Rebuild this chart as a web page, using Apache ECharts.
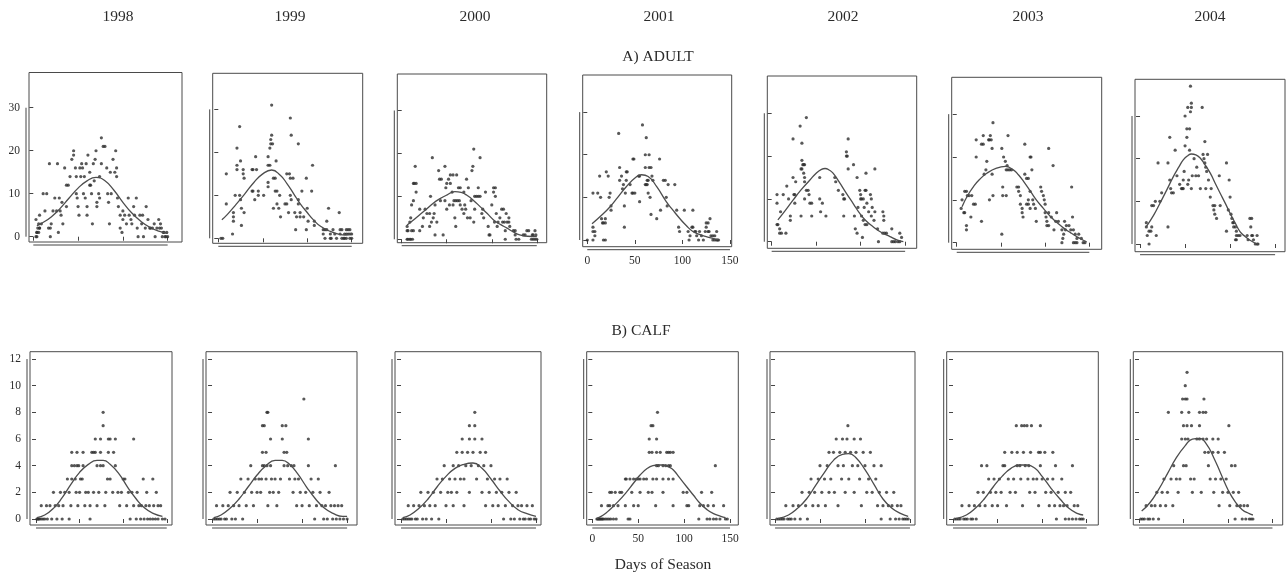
<!DOCTYPE html>
<html><head><meta charset="utf-8">
<script src="https://cdn.jsdelivr.net/npm/echarts@6/dist/echarts.min.js"></script>
<style>html,body{margin:0;padding:0;background:#fff}#c{width:1287px;height:575px}</style>
</head><body><div id="c"></div>
<script>
// ---------------- DATA ----------------
const years = ['1998','1999','2000','2001','2002','2003','2004'];
const rowTitles = ['A) ADULT','B) CALF'];
const xTitle = 'Days of Season';
const dayTicks = [0,50,100,150];
const adultTicks = [0,10,20,30];
const calfTicks = [0,2,4,6,8,10,12];

const adult1998 = [[3,4],[4,1],[4,0],[6,1],[7,2],[7,2],[7,5],[9,3],[11,10],[15,10],[13,6],[17,2],[19,2],[18,17],[20,3],[19,0],[22,6],[24,9],[26,6],[27,17],[28,1],[29,9],[30,6],[31,5],[32,8],[33,3],[35,16],[37,7],[39,12],[37,12],[41,14],[43,18],[45,20],[45,19],[47,16],[48,14],[48,10],[49,9],[50,7],[51,5],[52,16],[53,14],[54,17],[55,16],[56,10],[57,14],[58,9],[59,17],[60,7],[60,5],[61,19],[63,12],[63,15],[64,12],[65,10],[66,3],[67,17],[68,13],[69,18],[70,20],[71,8],[71,7],[73,10],[74,9],[74,14],[76,17],[76,23],[78,21],[80,21],[82,16],[83,10],[84,8],[85,3],[86,15],[87,10],[89,18],[91,15],[92,20],[93,16],[93,14],[94,9],[95,7],[97,5],[97,2],[99,1],[100,4],[100,6],[102,5],[104,3],[106,9],[107,5],[109,4],[110,3],[112,7],[113,5],[115,9],[116,2],[117,0],[119,5],[121,3],[122,5],[123,0],[125,2],[126,7],[128,4],[130,2],[131,2],[133,2],[135,3],[136,0],[138,2],[140,4],[141,2],[142,3],[143,2],[145,1],[147,0],[148,0],[149,1],[150,0],[144,0],[146,1],[3,0],[5,2],[6,3],[4,1]];
const adultCurve1998 = [[4,2.6],[10,3.2],[20,4.6],[30,6.6],[40,9.0],[50,11.3],[60,13.0],[70,13.8],[80,13.0],[90,10.8],[100,8.0],[110,5.5],[120,3.6],[130,2.2],[140,1.3],[150,0.8]];

const adult1999 = [[3,0],[5,0],[9,15],[9,8],[16,1],[17,4],[17,5],[17,6],[19,10],[21,21],[21,17],[21,16],[24,10],[24,26],[25,18],[25,9],[26,7],[26,3],[28,16],[28,15],[29,14],[29,6],[38,16],[39,16],[38,11],[39,11],[41,9],[42,19],[43,16],[45,11],[45,10],[51,10],[56,17],[58,17],[58,21],[59,22],[59,23],[60,24],[61,22],[60,31],[56,19],[56,13],[56,12],[62,14],[64,14],[62,7],[64,11],[65,18],[66,11],[66,8],[68,7],[69,10],[70,5],[75,8],[77,8],[77,15],[80,15],[79,6],[81,14],[81,10],[82,24],[81,28],[82,9],[84,14],[86,6],[87,2],[88,5],[92,5],[90,8],[90,9],[90,22],[92,6],[94,11],[96,5],[99,2],[99,14],[100,7],[101,4],[105,11],[106,17],[108,4],[108,3],[118,2],[120,2],[122,2],[118,1],[120,0],[122,4],[124,7],[126,1],[126,0],[127,0],[129,2],[131,1],[133,0],[136,6],[137,2],[139,2],[137,1],[139,0],[141,0],[142,1],[144,1],[146,1],[148,1],[150,1],[142,0],[144,0],[148,0],[150,0],[144,2],[146,2],[148,2]];
const adultCurve1999 = [[4,4.3],[10,5.5],[20,7.9],[30,10.4],[40,13.0],[50,15.0],[60,15.9],[70,14.6],[77,12.8],[85,10.3],[92,8.1],[100,6.0],[107,4.3],[115,2.8],[126,1.6],[135,1.0],[144,0.8],[150,1.2]];

const adult2000 = [[6,0],[7,0],[9,0],[10,0],[12,0],[6,2],[7,2],[11,2],[13,2],[6,3],[9,4],[10,5],[11,8],[13,13],[14,13],[16,13],[15,17],[16,11],[13,9],[20,2],[20,7],[23,3],[24,5],[26,7],[28,6],[31,3],[31,6],[32,10],[33,4],[34,19],[35,5],[36,6],[37,8],[37,1],[39,4],[41,16],[42,14],[43,9],[44,14],[46,1],[48,17],[48,9],[49,12],[50,13],[50,7],[52,14],[53,8],[54,13],[54,15],[56,11],[57,15],[57,8],[58,9],[60,9],[62,9],[64,9],[59,5],[60,3],[61,15],[63,12],[65,12],[65,8],[67,7],[69,6],[69,11],[70,8],[71,7],[72,14],[73,5],[74,12],[76,5],[77,9],[78,16],[79,17],[80,21],[80,4],[81,7],[81,10],[83,10],[85,10],[87,10],[85,12],[87,19],[89,6],[91,5],[90,7],[93,11],[96,3],[97,1],[98,1],[100,8],[102,12],[104,12],[102,11],[104,10],[103,4],[105,6],[106,3],[107,4],[109,5],[111,7],[113,7],[112,4],[114,4],[115,0],[115,2],[116,6],[117,4],[119,4],[119,5],[120,3],[124,2],[126,2],[126,1],[127,0],[130,0],[135,1],[137,1],[139,2],[141,2],[144,0],[146,0],[148,0],[150,0],[145,1],[146,1],[149,1],[148,2]];
const adultCurve2000 = [[6,3.3],[12,4.3],[20,5.7],[28,7.1],[35,8.4],[42,9.4],[50,10.3],[59,11.1],[66,10.9],[72,10.3],[80,9.0],[87,7.6],[95,6.0],[102,4.5],[110,3.4],[117,2.6],[124,1.7],[131,1.0],[140,0.7],[150,0.6]];

const adult2001 = [[0,0],[6,3],[6,2],[8,1],[8,2],[6,0],[6,11],[11,11],[13,15],[14,10],[15,5],[16,4],[17,4],[19,5],[19,4],[17,0],[19,0],[20,16],[22,15],[23,10],[24,11],[25,8],[25,7],[33,25],[34,17],[34,14],[36,15],[37,12],[38,13],[39,8],[39,3],[40,11],[41,16],[41,14],[42,16],[45,13],[47,11],[48,11],[50,11],[48,19],[49,19],[54,15],[55,15],[55,9],[58,27],[61,20],[62,24],[61,17],[61,13],[62,13],[63,13],[63,14],[64,14],[65,20],[65,17],[67,17],[64,11],[66,10],[67,6],[68,15],[69,14],[73,5],[76,19],[77,7],[80,14],[82,14],[83,10],[84,8],[85,13],[92,13],[94,7],[96,3],[97,2],[102,7],[106,2],[107,0],[108,1],[110,3],[111,3],[111,7],[113,2],[114,2],[115,1],[117,0],[118,2],[120,1],[122,0],[124,2],[125,4],[127,4],[125,3],[127,2],[128,2],[129,5],[130,1],[132,1],[132,0],[134,0],[136,0],[134,1],[136,2],[137,0],[138,0]];
const adultCurve2001 = [[5,3.8],[15,5.8],[24,7.8],[32,10.0],[41,12.5],[52,14.9],[57,15.3],[64,14.9],[73,12.5],[83,9.0],[90,7.0],[97,5.1],[104,3.4],[111,2.0],[118,1.3],[125,0.8],[132,0.4],[138,0.1]];

const adult2002 = [[6,11],[6,9],[6,4],[7,4],[9,3],[9,2],[11,2],[10,7],[13,11],[16,2],[17,13],[19,10],[21,6],[21,5],[24,24],[24,15],[25,11],[26,11],[26,9],[27,14],[32,27],[33,17],[34,17],[34,23],[34,19],[35,18],[36,18],[37,18],[36,16],[37,15],[37,14],[37,10],[39,29],[39,12],[41,12],[42,11],[43,9],[45,9],[33,6],[45,6],[54,15],[54,10],[55,7],[57,9],[61,6],[71,15],[72,14],[75,12],[80,11],[81,10],[81,6],[82,10],[84,20],[84,21],[85,20],[86,24],[86,17],[92,18],[93,6],[94,3],[96,15],[96,2],[97,8],[99,12],[100,11],[100,10],[101,10],[101,6],[102,1],[103,10],[104,8],[105,12],[106,12],[103,5],[105,4],[107,4],[106,16],[107,9],[109,7],[111,11],[112,10],[112,6],[113,8],[115,5],[116,17],[116,7],[119,3],[120,0],[125,7],[126,6],[126,5],[125,2],[127,2],[129,2],[135,3],[135,0],[137,0],[139,0],[142,0],[144,0],[144,2],[146,1]];
const adultCurve2002 = [[7,5.1],[15,7.2],[24,9.7],[33,12.1],[43,14.4],[50,16.0],[56,16.9],[60,17.1],[65,16.7],[69,16.0],[76,13.9],[84,11.3],[92,8.8],[99,6.6],[106,4.9],[114,3.5],[123,2.2],[133,1.2],[140,0.5],[148,0.0]];

const adult2003 = [[6,10],[5,8],[8,7],[9,7],[9,12],[11,12],[11,3],[11,4],[12,11],[14,11],[16,6],[17,11],[19,9],[21,9],[22,24],[22,20],[28,5],[30,25],[28,23],[30,23],[31,16],[33,17],[34,19],[36,24],[37,24],[39,24],[37,10],[38,25],[40,22],[40,16],[41,28],[41,11],[51,22],[52,11],[56,11],[52,13],[51,2],[53,20],[55,19],[56,17],[58,17],[60,17],[62,17],[57,18],[58,25],[68,13],[70,13],[70,12],[72,11],[72,9],[74,8],[74,7],[75,6],[77,23],[77,16],[79,15],[81,15],[83,20],[84,20],[83,12],[85,17],[86,10],[87,9],[89,8],[90,5],[81,9],[83,8],[81,10],[79,9],[95,13],[96,12],[98,11],[99,10],[100,9],[100,7],[101,6],[102,5],[102,4],[104,4],[104,22],[104,7],[107,6],[109,18],[110,3],[112,5],[113,7],[115,5],[119,3],[119,0],[120,1],[121,2],[122,5],[124,4],[123,3],[127,4],[129,3],[130,13],[131,6],[132,3],[134,2],[132,0],[134,0],[136,0],[136,1],[138,2],[141,1],[143,0],[145,0]];
const adultCurve2003 = [[6,8.4],[12,10.9],[19,13.1],[26,14.8],[34,16.2],[45,17.4],[55,17.8],[64,17.0],[70,15.8],[77,13.9],[84,11.8],[90,10.0],[98,8.0],[106,6.1],[114,4.6],[121,3.4],[129,2.3],[136,1.4],[142,0.7],[147,0.2]];

const adult2004 = [[7,5],[7,4],[8,2],[10,0],[10,3],[12,3],[13,4],[13,9],[15,9],[17,10],[18,2],[20,19],[22,10],[24,12],[31,4],[31,19],[33,15],[33,25],[34,13],[35,12],[37,12],[39,22],[41,16],[44,14],[46,13],[47,13],[48,13],[48,15],[49,17],[50,23],[50,30],[52,27],[52,25],[53,32],[55,22],[55,27],[56,31],[56,37],[57,33],[57,32],[54,15],[58,16],[62,16],[65,16],[53,14],[57,13],[67,13],[60,20],[63,18],[69,32],[70,21],[71,20],[72,19],[73,18],[74,17],[72,24],[75,21],[76,15],[73,13],[78,11],[79,13],[81,9],[82,8],[83,9],[83,7],[85,6],[88,16],[89,9],[96,19],[98,8],[99,15],[100,11],[101,7],[102,6],[103,5],[104,5],[104,4],[106,4],[107,3],[107,2],[96,3],[106,1],[107,1],[109,2],[111,2],[119,2],[120,1],[122,6],[124,6],[123,4],[124,2],[125,2],[126,1],[128,0],[130,0],[131,0],[130,2]];
const adultCurve2004 = [[7,4.1],[15,6.7],[22,9.5],[30,12.8],[37,15.8],[43,18.0],[48,19.7],[53,20.7],[57,21.1],[62,20.9],[67,20.1],[72,18.6],[78,16.6],[84,14.0],[89,11.9],[95,9.4],[100,7.2],[106,4.8],[111,2.9],[117,1.7],[122,0.9],[127,0.3],[131,0.0]];

const calf1998 = [[77,8],[77,7],[68,6],[74,6],[83,6],[85,6],[91,6],[112,6],[41,5],[47,5],[54,5],[64,5],[66,5],[68,5],[74,5],[83,5],[89,5],[41,4],[44,4],[47,4],[49,4],[54,4],[70,4],[74,4],[77,4],[91,4],[36,3],[41,3],[45,3],[51,3],[53,3],[82,3],[85,3],[100,3],[102,3],[123,3],[134,3],[20,2],[28,2],[33,2],[38,2],[46,2],[50,2],[57,2],[60,2],[66,2],[72,2],[80,2],[88,2],[94,2],[98,2],[106,2],[110,2],[116,2],[127,2],[138,2],[6,1],[12,1],[16,1],[22,1],[26,1],[31,1],[40,1],[48,1],[56,1],[62,1],[70,1],[79,1],[96,1],[104,1],[112,1],[118,1],[121,1],[126,1],[130,1],[135,1],[140,1],[143,1],[1,0],[2,0],[3,0],[4,0],[6,0],[8,0],[10,0],[13,0],[18,0],[24,0],[30,0],[38,0],[62,0],[108,0],[115,0],[120,0],[124,0],[128,0],[131,0],[134,0],[137,0],[140,0],[145,0],[148,0]];
const calfCurve1998 = [[1,0.1],[10,0.3],[20,0.8],[30,1.6],[40,2.6],[50,3.5],[60,4.1],[70,4.4],[77,4.4],[85,4.1],[95,3.4],[105,2.4],[115,1.5],[125,0.8],[135,0.4],[145,0.2]];

const calf1999 = [[102,9],[61,8],[62,8],[56,7],[58,7],[78,7],[82,7],[65,6],[78,6],[107,6],[56,5],[60,5],[80,5],[83,5],[43,4],[56,4],[58,4],[61,4],[65,4],[80,4],[84,4],[88,4],[91,4],[107,4],[137,4],[32,3],[40,3],[48,3],[52,3],[55,3],[60,3],[66,3],[70,3],[76,3],[86,3],[92,3],[96,3],[110,3],[118,3],[20,2],[28,2],[36,2],[44,2],[50,2],[54,2],[64,2],[68,2],[74,2],[90,2],[98,2],[104,2],[112,2],[120,2],[130,2],[5,1],[12,1],[18,1],[24,1],[30,1],[38,1],[46,1],[62,1],[72,1],[94,1],[100,1],[108,1],[116,1],[122,1],[126,1],[132,1],[136,1],[140,1],[144,1],[2,0],[4,0],[6,0],[8,0],[10,0],[14,0],[16,0],[22,0],[26,0],[34,0],[114,0],[124,0],[128,0],[134,0],[138,0],[142,0],[146,0],[150,0]];
const calfCurve1999 = [[2,0.1],[10,0.3],[20,0.8],[30,1.5],[40,2.4],[50,3.3],[60,4.0],[70,4.4],[78,4.4],[86,4.1],[95,3.4],[105,2.4],[115,1.5],[125,0.8],[135,0.4],[145,0.2],[150,0.2]];

const calf2000 = [[82,8],[76,7],[82,7],[68,6],[76,6],[82,6],[90,6],[62,5],[68,5],[74,5],[80,5],[88,5],[94,5],[48,4],[58,4],[64,4],[72,4],[78,4],[86,4],[92,4],[100,4],[40,3],[46,3],[54,3],[60,3],[66,3],[70,3],[84,3],[96,3],[104,3],[110,3],[118,3],[22,2],[30,2],[36,2],[44,2],[52,2],[56,2],[62,2],[76,2],[90,2],[98,2],[106,2],[112,2],[120,2],[128,2],[8,1],[14,1],[20,1],[26,1],[32,1],[38,1],[50,1],[58,1],[70,1],[94,1],[102,1],[108,1],[116,1],[124,1],[130,1],[134,1],[140,1],[146,1],[2,0],[4,0],[6,0],[8,0],[10,0],[12,0],[16,0],[18,0],[24,0],[28,0],[34,0],[42,0],[114,0],[122,0],[126,0],[132,0],[136,0],[138,0],[142,0],[144,0],[148,0],[150,0]];
const calfCurve2000 = [[2,0.1],[10,0.3],[20,0.8],[30,1.5],[40,2.4],[50,3.2],[60,3.8],[70,4.1],[80,4.2],[90,3.8],[100,3.0],[110,2.1],[120,1.3],[130,0.7],[140,0.4],[150,0.2]];

const calf2001 = [[71,8],[64,7],[66,7],[62,6],[70,6],[62,5],[65,5],[70,5],[74,5],[81,5],[83,5],[85,5],[88,5],[70,4],[72,4],[77,4],[80,4],[83,4],[85,4],[134,4],[36,3],[37,3],[41,3],[45,3],[48,3],[50,3],[52,3],[56,3],[59,3],[66,3],[70,3],[77,3],[83,3],[88,3],[19,2],[21,2],[25,2],[30,2],[32,2],[43,2],[52,2],[61,2],[65,2],[77,2],[99,2],[103,2],[119,2],[130,2],[10,1],[17,1],[19,1],[23,1],[28,1],[36,1],[45,1],[50,1],[69,1],[88,1],[103,1],[105,1],[117,1],[121,1],[126,1],[132,1],[143,1],[5,0],[6,0],[7,0],[8,0],[9,0],[10,0],[11,0],[12,0],[14,0],[16,0],[18,0],[20,0],[23,0],[26,0],[39,0],[41,0],[116,0],[125,0],[128,0],[132,0],[135,0],[139,0],[145,0],[147,0]];
const calfCurve2001 = [[5,0.05],[12,0.3],[19,0.7],[28,1.3],[37,2.0],[45,2.7],[52,3.3],[60,3.8],[66,4.0],[72,4.05],[77,4.05],[83,3.9],[88,3.7],[95,3.1],[103,2.4],[110,1.8],[117,1.2],[125,0.7],[132,0.4],[140,0.2],[145,0.1]];

const calf2002 = [[81,7],[68,6],[75,6],[80,6],[88,6],[95,6],[60,5],[65,5],[72,5],[78,5],[84,5],[90,5],[98,5],[106,5],[50,4],[58,4],[70,4],[76,4],[86,4],[92,4],[100,4],[110,4],[118,4],[40,3],[48,3],[55,3],[62,3],[74,3],[82,3],[94,3],[104,3],[112,3],[30,2],[38,2],[44,2],[52,2],[60,2],[66,2],[78,2],[88,2],[102,2],[108,2],[116,2],[124,2],[132,2],[12,1],[20,1],[26,1],[34,1],[42,1],[48,1],[56,1],[70,1],[96,1],[114,1],[120,1],[126,1],[130,1],[136,1],[140,1],[2,0],[4,0],[6,0],[8,0],[10,0],[14,0],[16,0],[18,0],[22,0],[28,0],[36,0],[118,0],[128,0],[134,0],[138,0],[142,0],[144,0],[146,0],[148,0]];
const calfCurve2002 = [[4,0.05],[15,0.3],[25,0.8],[35,1.5],[45,2.5],[55,3.5],[65,4.4],[75,4.85],[82,4.9],[90,4.6],[100,3.7],[110,2.6],[120,1.5],[130,0.8],[140,0.4],[148,0.2]];

const calf2003 = [[71,7],[77,7],[80,7],[83,7],[88,7],[98,7],[58,5],[66,5],[72,5],[79,5],[87,5],[96,5],[98,5],[103,5],[112,5],[32,4],[38,4],[56,4],[58,4],[72,4],[75,4],[81,4],[85,4],[98,4],[115,4],[134,4],[40,3],[46,3],[52,3],[62,3],[68,3],[76,3],[84,3],[90,3],[94,3],[100,3],[106,3],[112,3],[122,3],[28,2],[34,2],[42,2],[48,2],[54,2],[64,2],[70,2],[86,2],[92,2],[104,2],[110,2],[118,2],[126,2],[132,2],[10,1],[18,1],[24,1],[30,1],[36,1],[44,1],[50,1],[60,1],[78,1],[96,1],[108,1],[114,1],[120,1],[124,1],[128,1],[136,1],[140,1],[2,0],[4,0],[6,0],[8,0],[12,0],[14,0],[16,0],[20,0],[22,0],[26,0],[116,0],[126,0],[130,0],[134,0],[138,0],[142,0],[144,0],[146,0]];
const calfCurve2003 = [[4,0.05],[15,0.3],[25,0.8],[35,1.5],[45,2.4],[55,3.2],[65,3.8],[75,4.05],[83,4.05],[92,3.8],[100,3.2],[110,2.3],[120,1.5],[130,0.8],[140,0.4],[146,0.3]];

const calf2004 = [[54,11],[52,10],[49,9],[52,9],[54,9],[73,9],[33,8],[48,8],[56,8],[68,8],[72,8],[75,8],[50,7],[54,7],[59,7],[68,7],[101,7],[48,6],[52,6],[55,6],[65,6],[68,6],[72,6],[76,6],[83,6],[89,6],[74,5],[78,5],[83,5],[89,5],[96,5],[39,4],[50,4],[53,4],[78,4],[104,4],[108,4],[28,3],[36,3],[42,3],[46,3],[58,3],[62,3],[80,3],[86,3],[92,3],[98,3],[20,2],[26,2],[32,2],[44,2],[60,2],[70,2],[84,2],[94,2],[100,2],[106,2],[112,2],[8,1],[14,1],[18,1],[24,1],[30,1],[38,1],[90,1],[102,1],[110,1],[114,1],[118,1],[122,1],[2,0],[4,0],[6,0],[10,0],[12,0],[16,0],[22,0],[108,0],[116,0],[120,0],[124,0],[126,0],[128,0]];
const calfCurve2004 = [[3,0.6],[12,1.2],[22,2.2],[32,3.4],[42,4.6],[52,5.5],[60,6.0],[68,6.05],[76,5.6],[84,4.6],[92,3.4],[100,2.2],[108,1.3],[116,0.7],[124,0.4],[128,0.3]];

const adultPoints = [adult1998, adult1999, adult2000, adult2001, adult2002, adult2003, adult2004];
const adultCurves = [adultCurve1998, adultCurve1999, adultCurve2000, adultCurve2001, adultCurve2002, adultCurve2003, adultCurve2004];
const calfPoints = [calf1998, calf1999, calf2000, calf2001, calf2002, calf2003, calf2004];
const calfCurves = [calfCurve1998, calfCurve1999, calfCurve2000, calfCurve2001, calfCurve2002, calfCurve2003, calfCurve2004];

// ---------------- LAYOUT ----------------
const FONT = '"Liberation Serif", "Times New Roman", serif';
const INK = '#2b2b2b';
const topPanels = [
  {left:29,    top:72.5, width:153,   height:169.5, xmin:-4.8, xmax:166,   ymin:-1.23, ymax:38.2},
  {left:212.7, top:73.3, width:150,   height:170,   xmin:-6.3, xmax:162.4, ymin:-1.16, ymax:38.4},
  {left:397.3, top:74,   width:149.4, height:168.7, xmin:-4.9, xmax:161,   ymin:-0.8,  ymax:38.5},
  {left:582.7, top:75,   width:149,   height:171.7, xmin:-4.8, xmax:151.8, ymin:-1.57, ymax:38.7},
  {left:767.3, top:76,   width:149.4, height:172.3, xmin:-4.9, xmax:163,   ymin:-1.54, ymax:38.7},
  {left:951.7, top:77.3, width:150,   height:172,   xmin:-5.7, xmax:164,   ymin:-1.54, ymax:38.6},
  {left:1135,  top:79.3, width:150,   height:172.4, xmin:-5.6, xmax:161,   ymin:-1.8,  ymax:38.6}
];
const botPanels = [
  {left:30,    width:142,   xmin:-6.9, xmax:156},
  {left:206,   width:151,   xmin:-6.7, xmax:161},
  {left:395,   width:146,   xmin:-6.7, xmax:155.6},
  {left:586.7, width:151.6, xmin:-6.1, xmax:159},
  {left:770,   width:145,   xmin:-5.6, xmax:155.6},
  {left:946.7, width:151.6, xmin:-7.1, xmax:163},
  {left:1133.3,width:149.4, xmin:-6.4, xmax:161.5}
];
const BOT_TOP = 351.7, BOT_H = 173.3, BOT_YMIN = -0.45, BOT_YMAX = 12.55;

const grids = [], xAxes = [], yAxes = [], series = [];
function addPanel(idx, g, yTicks, showY, showX, pts, curve) {
  grids.push({left:g.left, top:g.top, width:g.width, height:g.height, show:true,
    borderColor:'#4a4a4a', borderWidth:1, backgroundColor:'transparent'});
  xAxes.push({gridIndex:idx, type:'value', min:g.xmin, max:g.xmax, offset:3,
    axisLine:{show:false}, splitLine:{show:false},
    axisTick:{show:true, customValues:dayTicks, length:4, lineStyle:{color:'#444', width:1}},
    axisLabel:{show:showX, customValues:dayTicks, margin:5, fontSize:11.5, color:INK, fontFamily:FONT}});
  yAxes.push({gridIndex:idx, type:'value', min:g.ymin, max:g.ymax, offset:3,
    axisLine:{show:false}, splitLine:{show:false},
    axisTick:{show:true, customValues:yTicks, length:4, lineStyle:{color:'#444', width:1}},
    axisLabel:{show:showY, customValues:yTicks, margin:6, fontSize:11.5, color:INK, fontFamily:FONT}});
  series.push({type:'scatter', xAxisIndex:idx, yAxisIndex:idx, data:pts, symbol:'circle', symbolSize:3.2,
    itemStyle:{color:'#2e2e2e'}, silent:true, animation:false});
  series.push({type:'line', xAxisIndex:idx, yAxisIndex:idx, data:curve, smooth:true, showSymbol:false,
    lineStyle:{color:'#4d4d4d', width:1.3}, silent:true, animation:false, z:3});
}
for (let i = 0; i < 7; i++) {
  addPanel(i, topPanels[i], adultTicks, i === 0, i === 3, adultPoints[i], adultCurves[i]);
}
for (let i = 0; i < 7; i++) {
  const b = botPanels[i];
  addPanel(7 + i, {left:b.left, top:BOT_TOP, width:b.width, height:BOT_H, xmin:b.xmin, xmax:b.xmax, ymin:BOT_YMIN, ymax:BOT_YMAX},
    calfTicks, i === 0, i === 3, calfPoints[i], calfCurves[i]);
}

const chart = echarts.init(document.getElementById('c'), null, {renderer:'canvas'});
chart.setOption({backgroundColor:'#fff', animation:false, grid:grids, xAxis:xAxes, yAxis:yAxes, series:series});

// axis spines (first to last tick), located through the axes' own scales
const yearX = [118, 290, 475, 659, 843, 1028, 1210];
const elements = [];
years.forEach((y, i) => elements.push({type:'text', x:yearX[i], y:17,
  style:{text:y, textAlign:'center', textVerticalAlign:'middle', font:'15.5px ' + FONT, fill:INK}}));
elements.push({type:'text', x:658, y:57, style:{text:rowTitles[0], textAlign:'center', textVerticalAlign:'middle', font:'15.5px ' + FONT, fill:INK}});
elements.push({type:'text', x:641, y:331, style:{text:rowTitles[1], textAlign:'center', textVerticalAlign:'middle', font:'15.5px ' + FONT, fill:INK}});
elements.push({type:'text', x:663, y:565, style:{text:xTitle, textAlign:'center', textVerticalAlign:'middle', font:'15.5px ' + FONT, fill:INK}});

for (let i = 0; i < 14; i++) {
  const g = grids[i];
  const yTicks = i < 7 ? adultTicks : calfTicks;
  const x0 = chart.convertToPixel({xAxisIndex:i}, dayTicks[0]);
  const x1 = chart.convertToPixel({xAxisIndex:i}, dayTicks[dayTicks.length - 1]);
  const yb = g.top + g.height + 3;
  elements.push({type:'line', shape:{x1:x0, y1:yb, x2:x1, y2:yb}, style:{stroke:'#444', lineWidth:1}});
  const y0 = chart.convertToPixel({yAxisIndex:i}, yTicks[0]);
  const y1 = chart.convertToPixel({yAxisIndex:i}, yTicks[yTicks.length - 1]);
  const xl = g.left - 3;
  elements.push({type:'line', shape:{x1:xl, y1:y0, x2:xl, y2:y1}, style:{stroke:'#444', lineWidth:1}});
}
chart.setOption({graphic:{elements:elements}});
</script></body></html>
